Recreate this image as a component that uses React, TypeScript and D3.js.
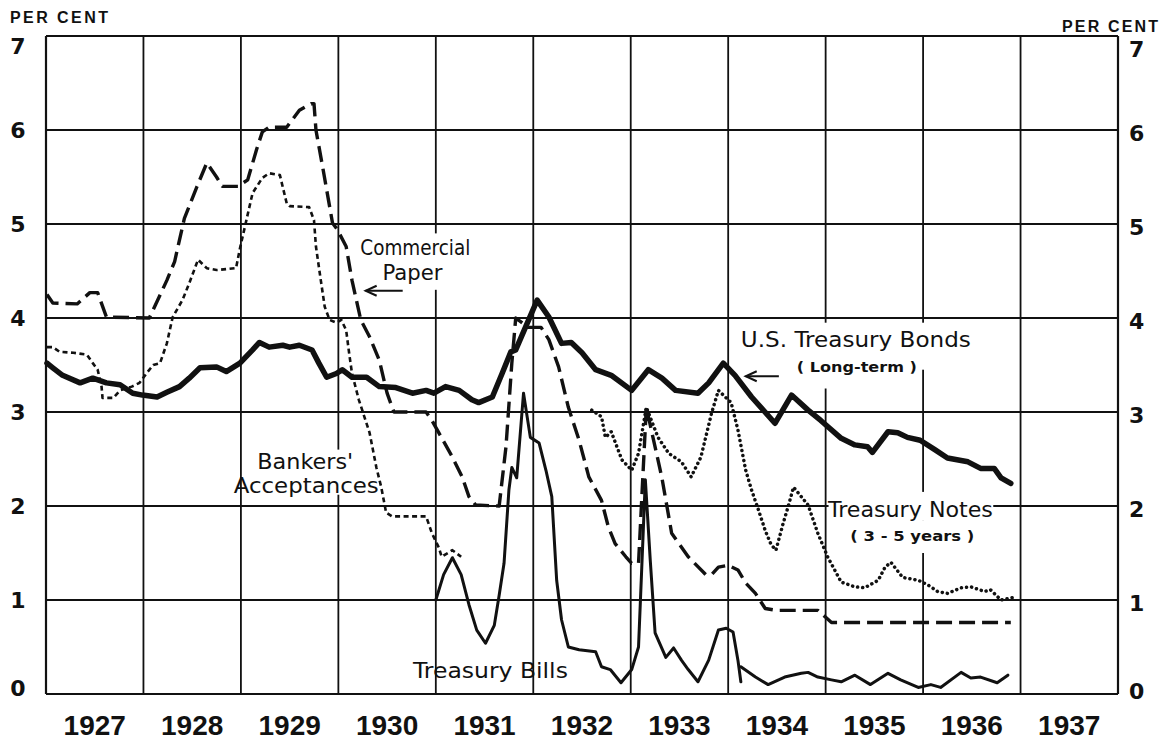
import { useEffect, useRef } from 'react';
import * as d3 from 'd3';

type Pt = [number, number];

const years = [1927, 1928, 1929, 1930, 1931, 1932, 1933, 1934, 1935, 1936, 1937];
const rateTicks = [0, 1, 2, 3, 4, 5, 6, 7];

// prime commercial paper, long dashes
const commercialPaper: Pt[] = [
  [1927.01, 4.25], [1927.07, 4.16], [1927.32, 4.15], [1927.45, 4.27], [1927.53, 4.27], [1927.62, 4.01],
  [1928.06, 4.0], [1928.24, 4.4], [1928.32, 4.6], [1928.35, 4.74], [1928.42, 5.06], [1928.55, 5.4],
  [1928.65, 5.65], [1928.75, 5.5], [1928.81, 5.4], [1928.97, 5.4], [1929.07, 5.47], [1929.16, 5.79],
  [1929.22, 5.98], [1929.29, 6.03], [1929.47, 6.03], [1929.6, 6.21], [1929.72, 6.28], [1929.75, 6.28],
  [1929.77, 6.0], [1929.84, 5.6], [1929.94, 5.01], [1929.99, 4.94], [1930.08, 4.76], [1930.14, 4.4],
  [1930.23, 3.98], [1930.32, 3.8], [1930.42, 3.55], [1930.5, 3.2], [1930.57, 3.0], [1930.9, 3.0],
  [1930.96, 2.91], [1931.03, 2.78], [1931.17, 2.52], [1931.27, 2.31], [1931.34, 2.1], [1931.41, 2.01],
  [1931.65, 2.0], [1931.72, 2.63], [1931.78, 3.52], [1931.82, 4.0], [1931.95, 3.9], [1932.08, 3.9],
  [1932.16, 3.77], [1932.26, 3.48], [1932.36, 3.05], [1932.47, 2.7], [1932.57, 2.31], [1932.7, 2.06],
  [1932.77, 1.78], [1932.84, 1.6], [1932.95, 1.46], [1933.01, 1.39], [1933.08, 1.39], [1933.16, 3.05],
  [1933.32, 2.3], [1933.42, 1.71], [1933.59, 1.46], [1933.77, 1.27], [1933.83, 1.27], [1933.9, 1.35],
  [1934.0, 1.37], [1934.1, 1.32], [1934.18, 1.18], [1934.28, 1.07], [1934.38, 0.91], [1934.49, 0.89],
  [1934.92, 0.89], [1935.06, 0.76], [1936.9, 0.76],
];

// bankers' acceptances, short dashes
const bankersAcceptances: Pt[] = [
  [1927.01, 3.69], [1927.07, 3.69], [1927.14, 3.64], [1927.28, 3.63], [1927.42, 3.61], [1927.48, 3.52],
  [1927.53, 3.45], [1927.57, 3.27], [1927.58, 3.15], [1927.69, 3.15], [1927.76, 3.23], [1927.88, 3.27],
  [1927.96, 3.31], [1928.03, 3.41], [1928.1, 3.5], [1928.17, 3.52], [1928.24, 3.73], [1928.3, 4.01],
  [1928.4, 4.19], [1928.47, 4.37], [1928.56, 4.62], [1928.65, 4.53], [1928.75, 4.51], [1928.95, 4.53],
  [1928.99, 4.74], [1929.12, 5.33], [1929.22, 5.49], [1929.29, 5.54], [1929.4, 5.52], [1929.47, 5.22],
  [1929.5, 5.19], [1929.7, 5.18], [1929.75, 5.04], [1929.77, 4.76], [1929.82, 4.4], [1929.86, 4.12],
  [1929.91, 3.98], [1929.98, 3.95], [1930.03, 3.98], [1930.08, 3.87], [1930.11, 3.63], [1930.14, 3.41],
  [1930.21, 3.13], [1930.32, 2.78], [1930.39, 2.41], [1930.44, 2.2], [1930.49, 1.93], [1930.55, 1.89],
  [1930.9, 1.89], [1930.96, 1.71], [1931.03, 1.56], [1931.06, 1.46], [1931.17, 1.53], [1931.26, 1.46],
];

// U.S. Treasury bonds (long-term), heavy line
const treasuryBonds: Pt[] = [
  [1927.01, 3.52], [1927.07, 3.47], [1927.17, 3.39], [1927.35, 3.31], [1927.48, 3.36], [1927.62, 3.31],
  [1927.76, 3.29], [1927.89, 3.2], [1927.99, 3.18], [1928.14, 3.16], [1928.24, 3.21], [1928.37, 3.27],
  [1928.47, 3.36], [1928.58, 3.47], [1928.75, 3.48], [1928.85, 3.43], [1928.99, 3.52], [1929.12, 3.66],
  [1929.19, 3.74], [1929.29, 3.69], [1929.43, 3.71], [1929.5, 3.69], [1929.6, 3.71], [1929.73, 3.66],
  [1929.8, 3.52], [1929.88, 3.37], [1929.98, 3.41], [1930.04, 3.45], [1930.14, 3.37], [1930.29, 3.37],
  [1930.42, 3.27], [1930.59, 3.26], [1930.76, 3.2], [1930.9, 3.23], [1930.98, 3.2], [1931.1, 3.27],
  [1931.24, 3.23], [1931.37, 3.13], [1931.44, 3.1], [1931.58, 3.16], [1931.68, 3.41], [1931.77, 3.64],
  [1931.82, 3.66], [1932.04, 4.19], [1932.16, 4.01], [1932.29, 3.73], [1932.39, 3.74], [1932.5, 3.63],
  [1932.64, 3.45], [1932.8, 3.39], [1933.01, 3.23], [1933.18, 3.45], [1933.32, 3.36], [1933.46, 3.23],
  [1933.69, 3.2], [1933.8, 3.31], [1933.95, 3.52], [1934.07, 3.39], [1934.24, 3.16], [1934.48, 2.88],
  [1934.65, 3.18], [1934.82, 3.02], [1934.95, 2.91], [1935.16, 2.72], [1935.3, 2.65], [1935.43, 2.63],
  [1935.48, 2.57], [1935.64, 2.79], [1935.74, 2.78], [1935.84, 2.73], [1935.97, 2.7], [1936.12, 2.6],
  [1936.25, 2.51], [1936.46, 2.47], [1936.59, 2.4], [1936.73, 2.4], [1936.8, 2.3], [1936.9, 2.24],
];

// Treasury bills, thin line (drawn in two pieces, as in the original)
const treasuryBills1: Pt[] = [
  [1931.0, 1.0], [1931.08, 1.27], [1931.17, 1.45], [1931.26, 1.27], [1931.34, 0.95], [1931.42, 0.68],
  [1931.51, 0.54], [1931.6, 0.73], [1931.65, 1.05], [1931.7, 1.39], [1931.75, 2.17], [1931.78, 2.41],
  [1931.83, 2.3], [1931.9, 3.2], [1931.97, 2.73], [1932.06, 2.67], [1932.13, 2.38], [1932.19, 2.1],
  [1932.24, 1.21], [1932.29, 0.79], [1932.36, 0.5], [1932.47, 0.47], [1932.64, 0.45], [1932.7, 0.29],
  [1932.79, 0.26], [1932.9, 0.12], [1933.01, 0.26], [1933.08, 0.5], [1933.15, 2.28], [1933.2, 1.43],
  [1933.25, 0.65], [1933.36, 0.39], [1933.44, 0.49], [1933.52, 0.36], [1933.59, 0.26], [1933.69, 0.13],
  [1933.8, 0.36], [1933.9, 0.68], [1933.98, 0.7], [1934.05, 0.66], [1934.1, 0.36], [1934.13, 0.13],
];
const treasuryBills2: Pt[] = [
  [1934.13, 0.29], [1934.28, 0.18], [1934.41, 0.1], [1934.58, 0.18], [1934.75, 0.22], [1934.82, 0.23],
  [1934.92, 0.18], [1935.06, 0.15], [1935.16, 0.13], [1935.3, 0.2], [1935.46, 0.1], [1935.64, 0.22],
  [1935.77, 0.15], [1935.95, 0.07], [1936.08, 0.1], [1936.18, 0.07], [1936.39, 0.23], [1936.49, 0.17],
  [1936.59, 0.18], [1936.76, 0.12], [1936.87, 0.2],
];

// Treasury notes (3-5 years), dotted
const treasuryNotes: Pt[] = [
  [1932.6, 3.02], [1932.7, 2.95], [1932.74, 2.73], [1932.8, 2.79], [1932.91, 2.49], [1933.01, 2.38],
  [1933.08, 2.56], [1933.16, 3.05], [1933.28, 2.73], [1933.39, 2.56], [1933.52, 2.47], [1933.62, 2.31],
  [1933.72, 2.52], [1933.83, 2.99], [1933.9, 3.23], [1934.03, 3.1], [1934.1, 2.81], [1934.18, 2.38],
  [1934.24, 2.17], [1934.31, 1.96], [1934.38, 1.74], [1934.44, 1.59], [1934.49, 1.53], [1934.56, 1.8],
  [1934.62, 2.01], [1934.67, 2.2], [1934.75, 2.1], [1934.82, 2.01], [1934.92, 1.71], [1935.02, 1.46],
  [1935.16, 1.19], [1935.3, 1.14], [1935.4, 1.13], [1935.54, 1.21], [1935.61, 1.35], [1935.67, 1.4],
  [1935.79, 1.24], [1935.95, 1.21], [1936.05, 1.16], [1936.15, 1.09], [1936.25, 1.07], [1936.39, 1.13],
  [1936.49, 1.14], [1936.63, 1.09], [1936.69, 1.11], [1936.8, 1.0], [1936.94, 1.03],
];

const INK = '#111';
const LETTER = "'DejaVu Sans', 'Liberation Sans', sans-serif";
const FIGURES = "'Liberation Sans', Arial, sans-serif";

export default function App() {
  const svgRef = useRef<SVGSVGElement>(null);

  useEffect(() => {
    const svg = d3.select(svgRef.current);
    svg.selectAll('*').remove();

    const W = 1169, H = 744;
    svg.attr('width', W).attr('height', H).attr('viewBox', `0 0 ${W} ${H}`);

    const x = d3.scaleLinear().domain([1927, 1938]).range([46, 1118]);
    const y = d3.scaleLinear().domain([0, 7]).range([694, 36]);

    svg.append('rect').attr('width', W).attr('height', H).attr('fill', 'white');

    // grid: one cell per year, one per percentage point
    const grid = svg.append('g').attr('stroke', INK).attr('stroke-width', 1.8);
    rateTicks.forEach(v => {
      grid.append('line')
        .attr('x1', x(1927)).attr('x2', x(1938))
        .attr('y1', y(v)).attr('y2', y(v));
    });
    [...years, 1938].forEach(yr => {
      grid.append('line')
        .attr('x1', x(yr)).attr('x2', x(yr))
        .attr('y1', y(0)).attr('y2', y(7))
        .attr('stroke-width', yr === 1927 || yr === 1938 ? 2.2 : 1.8);
    });

    // white patches behind the lettering (the draftsman broke the grid there)
    const knock = (t0: number, t1: number, v0: number, v1: number) => {
      svg.append('rect')
        .attr('x', x(t0)).attr('y', y(v1))
        .attr('width', x(t1) - x(t0)).attr('height', y(v0) - y(v1))
        .attr('fill', 'white');
    };
    knock(1930.2, 1931.45, 4.3, 4.9);
    knock(1929.75, 1930.35, 2.12, 2.6);
    knock(1934.1, 1936.5, 3.45, 3.95);
    knock(1934.7, 1935.98, 3.25, 3.45);
    knock(1935.03, 1936.72, 1.85, 2.15);
    knock(1935.25, 1936.55, 1.5, 1.85);

    const line = d3.line<Pt>()
      .x(d => x(d[0]))
      .y(d => y(d[1]))
      .curve(d3.curveLinear);

    const draw = (data: Pt[], width: number, dash: string | null, cap = 'butt') => {
      const p = svg.append('path')
        .datum(data)
        .attr('d', line)
        .attr('fill', 'none')
        .attr('stroke', INK)
        .attr('stroke-width', width)
        .attr('stroke-linejoin', 'round')
        .attr('stroke-linecap', cap);
      if (dash) p.attr('stroke-dasharray', dash);
    };

    draw(bankersAcceptances, 2.6, '5,3.5');
    draw(treasuryNotes, 3.5, '0.1,5', 'round');
    draw(commercialPaper, 3.4, '16,7');
    draw(treasuryBills1, 3, null, 'round');
    draw(treasuryBills2, 3, null, 'round');
    draw(treasuryBonds, 5.5, null, 'round');

    // series labels
    const label = (t: number, v: number, txt: string, size: number, len: number, weight = 'normal') => {
      svg.append('text')
        .attr('x', x(t)).attr('y', y(v))
        .attr('text-anchor', 'middle')
        .attr('font-family', LETTER)
        .attr('font-size', size)
        .attr('font-weight', weight)
        .attr('fill', INK)
        .attr('textLength', len)
        .attr('lengthAdjust', 'spacingAndGlyphs')
        .text(txt);
    };
    label(1930.79, 4.67, 'Commercial', 21, 110);
    label(1930.76, 4.4, 'Paper', 21, 60);
    label(1929.66, 2.39, "Bankers'", 22, 96);
    label(1929.67, 2.14, 'Acceptances', 22, 145);
    label(1935.31, 3.69, 'U.S. Treasury Bonds', 21, 230);
    label(1935.32, 3.43, '( Long-term )', 14, 120, 'bold');
    label(1935.87, 1.88, 'Treasury Notes', 21, 165);
    label(1935.89, 1.63, '( 3 - 5 years )', 14, 124, 'bold');
    label(1931.56, 0.17, 'Treasury Bills', 21, 155);

    // pointer arrows
    const arrow = (t0: number, t1: number, v: number) => {
      const yy = y(v);
      svg.append('line')
        .attr('x1', x(t0)).attr('x2', x(t1)).attr('y1', yy).attr('y2', yy)
        .attr('stroke', INK).attr('stroke-width', 2);
      svg.append('path')
        .attr('d', `M${x(t0) + 11},${yy - 5} L${x(t0)},${yy} L${x(t0) + 11},${yy + 5}`)
        .attr('fill', 'none').attr('stroke', INK).attr('stroke-width', 2);
    };
    arrow(1930.28, 1930.66, 4.29);
    arrow(1934.18, 1934.52, 3.38);

    // rate tick labels, both sides
    const tickY = (v: number) => y(v) + 8 + (v === 7 ? 10 : v === 0 ? -6 : 0);
    rateTicks.forEach(v => {
      svg.append('text')
        .attr('x', 18).attr('y', tickY(v))
        .attr('text-anchor', 'middle')
        .attr('font-family', "'DejaVu Sans', sans-serif")
        .attr('font-weight', 'bold').attr('font-size', 22)
        .attr('fill', INK)
        .text(v);
      svg.append('text')
        .attr('x', 1129).attr('y', tickY(v) + 3)
        .attr('text-anchor', 'start')
        .attr('font-family', "'DejaVu Sans', sans-serif")
        .attr('font-weight', 'bold').attr('font-size', 22)
        .attr('fill', INK)
        .text(v);
    });

    svg.append('text')
      .attr('x', 10).attr('y', 23)
      .attr('font-family', FIGURES).attr('font-weight', 'bold').attr('font-size', 16)
      .attr('textLength', 98).attr('lengthAdjust', 'spacing')
      .attr('fill', INK)
      .text('PER CENT');
    svg.append('text')
      .attr('x', 1062).attr('y', 32)
      .attr('font-family', FIGURES).attr('font-weight', 'bold').attr('font-size', 16)
      .attr('textLength', 96).attr('lengthAdjust', 'spacing')
      .attr('fill', INK)
      .text('PER CENT');

    // year labels sit in the middle of each yearly cell
    years.forEach(yr => {
      svg.append('text')
        .attr('x', x(yr + 0.5)).attr('y', 735)
        .attr('text-anchor', 'middle')
        .attr('font-family', FIGURES)
        .attr('font-weight', 'bold').attr('font-size', 28)
        .attr('fill', INK)
        .text(yr);
    });
  }, []);

  return (
    <svg
      ref={svgRef}
      style={{ position: 'absolute', left: 0, top: 0, display: 'block' }}
      role="img"
      aria-label="Money rates 1927-1936"
    />
  );
}
